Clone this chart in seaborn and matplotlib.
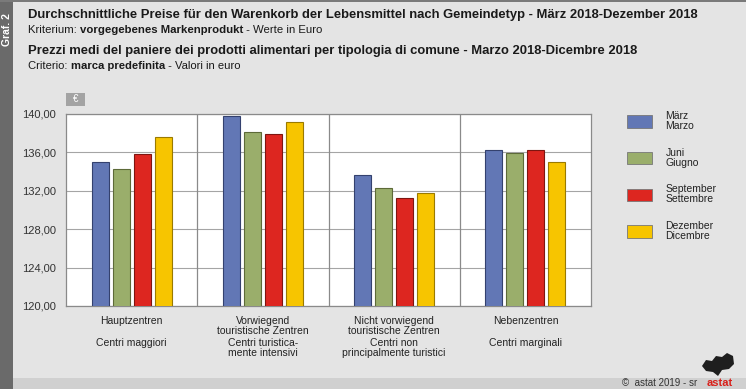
import matplotlib
import matplotlib.pyplot as plt
import matplotlib.patches as mpatches
import matplotlib.transforms as mtransforms
import pandas as pd
import seaborn as sns

# values (euro)
categories = ["Hauptzentren", "Vorwiegend\ntouristische Zentren",
              "Nicht vorwiegend\ntouristische Zentren", "Nebenzentren"]
categories_it = ["Centri maggiori", "Centri turistica-\nmente intensivi",
                 "Centri non\nprincipalmente turistici", "Centri marginali"]
months = ["März\nMarzo", "Juni\nGiugno", "September\nSettembre", "Dezember\nDicembre"]
maerz = [135.0, 139.8, 133.6, 136.3]
juni = [134.3, 138.1, 132.3, 135.9]
september = [135.8, 137.9, 131.3, 136.3]
dezember = [137.6, 139.2, 131.8, 135.0]
yticks = [120, 124, 128, 132, 136, 140]

colors = ["#6277b5", "#9aae6b", "#dd2620", "#f7c500"]
edges = ["#34416e", "#5d6a38", "#7e1510", "#9a7a00"]

rows = []
for month, vals in zip(months, [maerz, juni, september, dezember]):
    for cat, v in zip(categories, vals):
        rows.append({"Gemeindetyp": cat, "Monat": month, "Preis": v})
df = pd.DataFrame(rows)

sns.set_theme(style="white")
plt.rcParams["font.family"] = ["Liberation Sans", "DejaVu Sans"]

bg = "#e4e4e4"
fig = plt.figure(figsize=(7.46, 3.89), dpi=100, facecolor=bg)
W, H = 746, 389


def fx(px):
    return px / W


def fy(py):
    return 1 - py / H


ax = fig.add_axes([fx(66), fy(306), fx(591) - fx(66), fy(114) - fy(306)])
ax.set_facecolor("white")

sns.barplot(data=df, x="Gemeindetyp", y="Preis", hue="Monat", palette=colors,
            saturation=1, width=0.64, gap=0.2, legend=False, ax=ax, zorder=3)
n = len(categories)
for i, bar in enumerate(ax.patches):
    bar.set_edgecolor(edges[i // n])
    bar.set_linewidth(0.8)

ax.set_ylim(120, 140)
ax.set_xlim(-0.5, n - 0.5)
ax.set_yticks(yticks)
ax.set_yticklabels([f"{t:.2f}".replace(".", ",") for t in yticks],
                   fontsize=8, color="#333333")
ax.tick_params(axis="y", length=0, pad=7)
ax.set_xticks(range(n))
ax.set_xticklabels(categories, fontsize=7.5, color="#222222", linespacing=1.0,
                   va="top")
ax.tick_params(axis="x", length=0, pad=7)
ax.set_xlabel("")
ax.set_ylabel("")
ax.grid(axis="y", color="#a5a5a5", linewidth=0.8, zorder=0)
for xb in [0.5, 1.5, 2.5]:
    ax.axvline(xb, color="#8a8a8a", linewidth=0.9, zorder=1)
for side in ax.spines.values():
    side.set_color("#8a8a8a")
    side.set_linewidth(0.9)

trans = mtransforms.blended_transform_factory(ax.transData, fig.transFigure)
for i, lab in enumerate(categories_it):
    ax.text(i, fy(338), lab, transform=trans, ha="center", va="top",
            fontsize=7.5, color="#222222", linespacing=1.0)

# legend
handles = [mpatches.Patch(facecolor=c, edgecolor="#777777", linewidth=0.6)
           for c in colors]
fig.legend(handles, months, loc="upper left",
           bbox_to_anchor=(fx(627), fy(111)), frameon=False, fontsize=7.5,
           handlelength=2.4, handleheight=1.45, handletextpad=1.3,
           labelspacing=1.6, borderaxespad=0, borderpad=0)
for t in fig.legends[0].get_texts():
    t.set_linespacing(1.0)
    t.set_color("#222222")

# euro box
fig.patches.append(mpatches.Rectangle((fx(66), fy(106)), fx(19), fy(93) - fy(106),
                                      transform=fig.transFigure,
                                      facecolor="#a3a3a3", edgecolor="none"))
fig.text(fx(75.5), fy(99.5), "€", ha="center", va="center", color="white",
         fontsize=7)

# frame decoration
fig.patches.append(mpatches.Rectangle((0, 0), fx(13), 1, transform=fig.transFigure,
                                      facecolor="#6a6a6a", edgecolor="none"))
fig.patches.append(mpatches.Rectangle((0, fy(2)), 1, fy(0) - fy(2),
                                      transform=fig.transFigure,
                                      facecolor="#7a7a7a", edgecolor="none"))
fig.patches.append(mpatches.Rectangle((fx(13), 0), 1, fy(378),
                                      transform=fig.transFigure,
                                      facecolor="#d0d0d0", edgecolor="none"))
fig.text(fx(6.5), fy(30), "Graf. 2", rotation=90, ha="center", va="center",
         color="white", fontsize=7.5, fontweight="bold")

# small logo shape
logo = [(702, 366), (706, 360), (712, 361), (716, 356), (722, 357), (727, 353),
        (733, 356), (734, 364), (729, 369), (722, 370), (718, 376), (713, 372),
        (706, 371)]
fig.patches.append(mpatches.Polygon([(fx(a), fy(b)) for a, b in logo],
                                    transform=fig.transFigure,
                                    facecolor="#1e1e1e", edgecolor="none"))

renderer = fig.canvas.get_renderer()


def line(x, y, parts, size):
    x = fx(x)
    for txt, weight in parts:
        t = fig.text(x, fy(y), txt, fontsize=size, fontweight=weight,
                     va="center", ha="left", color="#1a1a1a")
        x += t.get_window_extent(renderer).width / fig.bbox.width


line(28, 15, [("Durchschnittliche Preise für den Warenkorb der Lebensmittel "
               "nach Gemeindetyp - März 2018-Dezember 2018", "bold")], 9.4)
line(28, 30, [("Kriterium: ", "normal"), ("vorgegebenes Markenprodukt", "bold"),
              (" - Werte in Euro", "normal")], 8.2)
line(28, 51, [("Prezzi medi del paniere dei prodotti alimentari per tipologia "
               "di comune - Marzo 2018-Dicembre 2018", "bold")], 9.4)
line(28, 66, [("Criterio: ", "normal"), ("marca predefinita", "bold"),
              (" - Valori in euro", "normal")], 8.1)

fig.text(fx(622), fy(383), "©  astat 2019 - sr", fontsize=7, color="#333333",
         va="center", ha="left")
fig.text(fx(707), fy(383), "astat", fontsize=8, color="#d8201a",
         fontweight="bold", va="center", ha="left")

fig.savefig("out.png", dpi=100, facecolor=bg)
